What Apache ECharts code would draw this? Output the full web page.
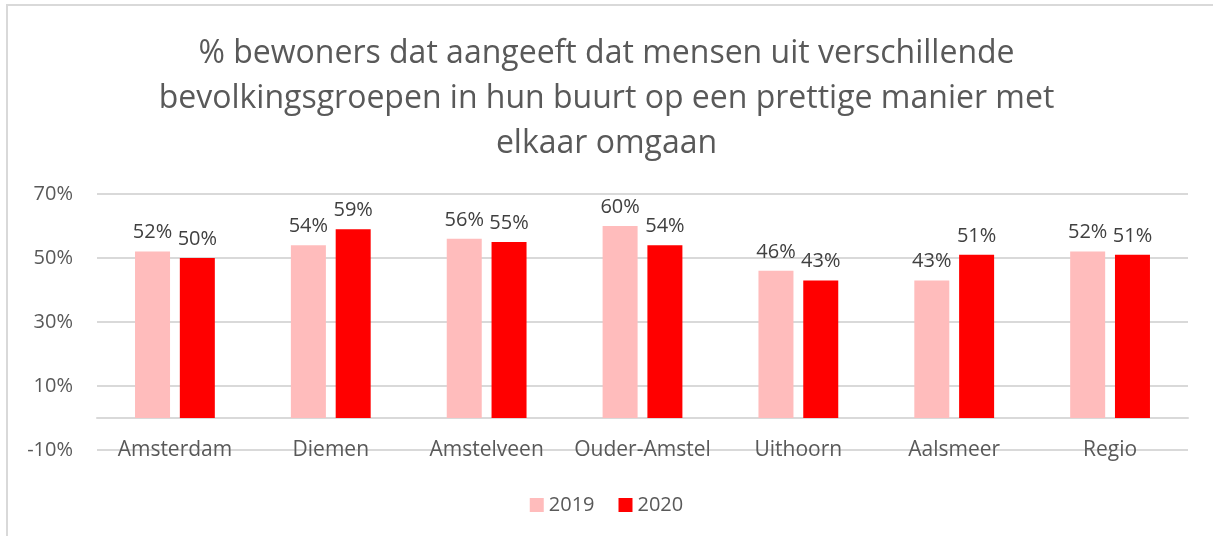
<!DOCTYPE html>
<html lang="nl">

<head>
    <meta charset="UTF-8">
    <title>Prettige omgang in de buurt</title>
    <script src="https://cdn.jsdelivr.net/npm/echarts@6/dist/echarts.min.js"></script>
    <style>
        html, body { margin: 0; padding: 0; background: #fff; overflow: hidden; }
        #frame {
            position: absolute; left: 6px; top: 4px; width: 1230px; height: 560px;
            border-left: 2px solid #d9d9d9; border-top: 2px solid #d9d9d9;
        }
        #main { position: absolute; left: 0; top: 0; width: 1213px; height: 536px; }
    </style>
</head>

<body>
<div id="frame"></div>
<div id="main"></div>
<script>
    // data
    const categories = ['Amsterdam', 'Diemen', 'Amstelveen', 'Ouder-Amstel', 'Uithoorn', 'Aalsmeer', 'Regio']
    const values2019 = [52, 54, 56, 60, 46, 43, 52]
    const values2020 = [50, 59, 55, 54, 43, 51, 51]
    const seriesNames = ['2019', '2020']

    const textColor = '#595959'
    const fontFamily = '"Open Sans", sans-serif'

    const chart = echarts.init(document.getElementById('main'))

    const labelStyle = {
        show: true,
        position: 'top',
        distance: 9,
        formatter: '{c}%',
        color: '#404040',
        fontSize: 20,
        fontFamily: fontFamily
    }

    chart.setOption({
        animation: false,
        textStyle: { fontFamily: fontFamily },
        title: {
            text: '% bewoners dat aangeeft dat mensen uit verschillende\nbevolkingsgroepen in hun buurt op een prettige manier met\nelkaar omgaan',
            left: 'center',
            top: 26,
            textStyle: {
                color: textColor,
                fontSize: 32,
                fontWeight: 'normal',
                lineHeight: 45,
                fontFamily: fontFamily
            }
        },
        legend: {
            data: seriesNames,
            bottom: 16,
            left: 'center',
            itemWidth: 14,
            itemHeight: 14,
            itemGap: 24,
            icon: 'rect',
            textStyle: { color: textColor, fontSize: 20, fontFamily: fontFamily }
        },
        grid: {
            left: 97,
            right: 25,
            top: 194,
            bottom: 86
        },
        xAxis: {
            type: 'category',
            data: categories,
            axisLine: { onZero: true, lineStyle: { color: '#d9d9d9', width: 2 } },
            axisTick: { show: false },
            axisLabel: {
                interval: 0,
                hideOverlap: false,
                margin: -10,
                color: textColor,
                fontSize: 21,
                fontFamily: fontFamily
            }
        },
        yAxis: {
            type: 'value',
            min: -10,
            max: 70,
            interval: 20,
            axisLine: { show: false },
            axisTick: { show: false },
            axisLabel: {
                formatter: '{value}%',
                margin: 24,
                color: textColor,
                fontSize: 20,
                fontFamily: fontFamily
            },
            splitLine: { lineStyle: { color: '#d9d9d9', width: 2 } }
        },
        series: [
            {
                name: seriesNames[0],
                type: 'bar',
                data: values2019,
                barWidth: 35,
                barGap: '28%',
                itemStyle: { color: '#ffbcbc' },
                label: labelStyle
            },
            {
                name: seriesNames[1],
                type: 'bar',
                data: values2020,
                barWidth: 35,
                barGap: '28%',
                itemStyle: { color: '#ff0000' },
                label: labelStyle
            }
        ]
    })
</script>
</body>

</html>
